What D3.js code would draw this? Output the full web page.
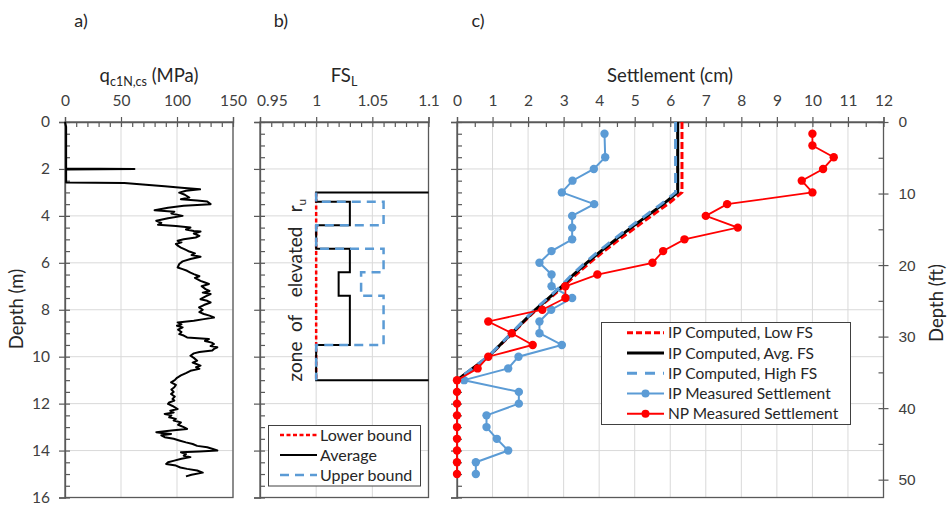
<!DOCTYPE html>
<html>
<head>
<meta charset="utf-8">
<script src="https://cdn.jsdelivr.net/npm/d3@7"></script>
<style>
  html, body { margin: 0; padding: 0; background: #fff; }
  svg { display: block; font-family: Lato, "Open Sans", sans-serif; }
</style>
</head>
<body>
<svg id="fig" width="951" height="506"></svg>
<script>
// ---------- CPT profile (panel a) ----------
const cptDepth = [0,0.2,1.0,1.98,2.0,2.02,2.58,2.6,2.68,2.74,2.8,2.87,2.93,3.01,3.1,3.22,3.29,3.34,3.39,3.5,3.57,3.65,3.76,3.82,3.9,4.0,4.1,4.21,4.3,4.38,4.43,4.5,4.58,4.64,4.67,4.75,4.85,4.92,5.0,5.06,5.13,5.2,5.28,5.35,5.45,5.52,5.6,5.67,5.74,5.84,5.94,6.05,6.2,6.27,6.34,6.42,6.48,6.57,6.64,6.77,6.84,6.9,7.0,7.12,7.2,7.27,7.33,7.42,7.55,7.62,7.69,7.8,7.9,8.0,8.1,8.18,8.25,8.33,8.4,8.47,8.54,8.62,8.68,8.75,8.85,8.95,9.04,9.1,9.18,9.25,9.33,9.4,9.46,9.55,9.6,9.67,9.74,9.8,9.86,9.96,10.05,10.17,10.25,10.38,10.45,10.52,10.6,10.7,10.8,10.9,11.0,11.09,11.2,11.3,11.4,11.5,11.59,11.7,11.8,11.87,11.95,12.01,12.1,12.23,12.3,12.38,12.44,12.5,12.58,12.65,12.72,12.8,12.9,13.0,13.08,13.15,13.22,13.26,13.29,13.35,13.43,13.5,13.57,13.65,13.72,13.8,13.86,13.93,14.0,14.04,14.07,14.15,14.22,14.28,14.35,14.43,14.5,14.57,14.64,14.72,14.78,14.85,14.94,15.03,15.1];
const cptQc = [0,1,1,1,62,1,1,53,75,89,104,120.6,108,102,107,111,103.5,118,127,130,106,92,80,97.6,95,105,92,81.5,86,83,99,112,108,115,121,115,120,116.7,106,100.6,104,99,101,103.5,108,111,116,113,121,112,105,102,100.6,105,109,112,115,120,116,121,125,128.5,122,125.5,129,123,130,126,121,127,130,124,119.7,123,120,124,129,133,124,115,100.6,104,100,105,101,104,102,106,109,128.5,125,131,133,130,136,133,131.5,120,115,112,115,118,114,121,117,120,112,108,103.5,100,98,94.7,99,97.6,95,97,94.7,98,96,97.6,93,92,96,100.6,94,97,89,95,93,99,97,103.5,101,106,109,95,81.5,88,94.7,86,89,97,102,108,114,118,127,132,136,120,103.5,108,106,112,104,97.6,92,90.3,99,103,109,118,123,113,108];
const qcTicks = [0, 50, 100, 150];

// ---------- Factor of safety profiles (panel b) ----------
const fsLowDepth = [3.0, 11.0];
const fsLowValue = [1.0, 1.0];
const fsAvgDepth = [3.0,3.0,3.4,3.4,4.4,4.4,5.4,5.4,6.4,6.4,7.4,7.4,9.5,9.5,11.0,11.0];
const fsAvgValue = [1.1,1.0,1.0,1.03,1.03,1.0,1.0,1.03,1.03,1.02,1.02,1.03,1.03,1.0,1.0,1.1];
const fsHighDepth = [3.0,3.4,3.4,4.4,4.4,5.4,5.4,6.4,6.4,7.4,7.4,9.5,9.5,11.0];
const fsHighValue = [1.0,1.0,1.06,1.06,1.0,1.0,1.06,1.06,1.04,1.04,1.06,1.06,1.0,1.0];
const fsTicks = [0.95, 1, 1.05, 1.1];
const fsLegend = ["Lower bound", "Average", "Upper bound"];

// ---------- Settlement profiles (panel c) ----------
const compDepth = [0,3.0,3.5,4.0,4.5,5.0,5.5,6.0,6.5,7.0,7.5,8.0,8.5,9.0,9.5,10.0,10.5,11.0];
const compLowFS = [6.33,6.33,5.93,5.47,5.02,4.57,4.14,3.73,3.35,3.0,2.62,2.23,1.89,1.56,1.22,0.89,0.45,0];
const compAvgFS = [6.21,6.21,5.8,5.35,4.9,4.47,4.05,3.65,3.28,2.95,2.58,2.2,1.87,1.54,1.21,0.88,0.44,0];
const compHighFS = [6.15,6.15,5.74,5.29,4.84,4.41,3.99,3.6,3.24,2.92,2.56,2.18,1.85,1.53,1.2,0.87,0.43,0];
const ipDepth = [0.5,1.5,2.0,2.5,3.0,3.5,4.0,4.5,5.0,5.5,6.0,6.5,7.0,7.5,8.0,8.5,9.0,9.5,10.0,10.5,11.0,11.5,12.0,12.5,13.0,13.5,14.0,14.5,15.0];
const ipMeasured = [4.15,4.17,3.85,3.25,2.95,3.86,3.24,3.24,3.24,2.66,2.32,2.66,2.66,3.24,2.65,2.32,2.32,2.95,1.73,1.44,0.2,1.74,1.74,0.83,0.83,1.12,1.44,0.53,0.53];
const npDepth = [0.5,1.0,1.5,2.0,2.5,3.0,3.5,4.0,4.5,5.0,5.5,6.0,6.5,7.0,7.5,8.0,8.5,9.0,9.5,10.0,10.5,11.0,11.5,12.0,12.5,13.0,13.5,14.0,14.5,15.0];
const npMeasured = [10.0,10.0,10.6,10.3,9.7,10.0,7.6,7.0,7.9,6.4,5.8,5.5,3.95,3.05,3.05,2.4,0.88,1.54,2.13,0.88,0.58,0,0,0,0,0,0,0,0,0];
const settleTicks = [0,1,2,3,4,5,6,7,8,9,10,11,12];
const settleLegend = ["IP Computed, Low FS", "IP Computed, Avg. FS", "IP Computed, High FS", "IP Measured Settlement", "NP Measured Settlement"];

const depthTicks = [0,2,4,6,8,10,12,14,16];
const depthFtTicks = [0,10,20,30,40,50];

// ---------- colours & type ----------
const RED = "#ff0000", BLUE = "#5b9bd5", BLACK = "#000000";
const AXIS = "#595959", GRID = "#d9d9d9", LABEL = "#404040", TITLE = "#262626";
const TICK_FS = "15.5px", TITLE_FS = "18.5px";

const svg = d3.select("#fig");
svg.append("rect").attr("width", 951).attr("height", 506).attr("fill", "#fff");

const y = d3.scaleLinear().domain([0, 16]).range([122, 497.5]);
const yFt = d3.scaleLinear().domain([0, 16 / 0.3048]).range([122, 497.5]);
const xa = d3.scaleLinear().domain([0, 150]).range([65, 233]);
const xb = d3.scaleLinear().domain([0.95, 1.1]).range([260, 428.5]);
const xc = d3.scaleLinear().domain([0, 12]).range([457, 883.5]);

function range(a, b, s) { const r = []; for (let v = a; v <= b + 1e-9; v += s) r.push(+v.toFixed(4)); return r; }

function panel(x, majorX, minorX, fmt, showDepthLabels) {
  const g = svg.append("g");
  const [x0, x1] = x.range();
  const [y0, y1] = y.range();
  // gridlines
  g.append("g").selectAll("line.v").data(majorX.filter((v, i) => i > 0)).join("line")
    .attr("x1", d => x(d)).attr("x2", d => x(d)).attr("y1", y0).attr("y2", y1)
    .attr("stroke", GRID).attr("stroke-width", 1);
  g.append("g").selectAll("line.h").data(depthTicks.slice(1, -1)).join("line")
    .attr("x1", x0).attr("x2", x1).attr("y1", d => y(d)).attr("y2", d => y(d))
    .attr("stroke", GRID).attr("stroke-width", 1);
  // frame
  g.append("rect").attr("x", x0).attr("y", y0).attr("width", x1 - x0).attr("height", y1 - y0)
    .attr("fill", "none").attr("stroke", AXIS).attr("stroke-width", 1.3);

  // top axis: labels + outward major ticks
  const top = g.append("g").attr("class", "top-axis").attr("transform", `translate(0,${y0})`)
    .call(d3.axisTop(x).tickValues(majorX).tickSize(5).tickPadding(11).tickFormat(fmt));
  top.select(".domain").attr("stroke", AXIS).attr("stroke-width", 1.3);
  // inward ticks (minor + major)
  g.append("g").attr("transform", `translate(0,${y0})`)
    .call(d3.axisTop(x).tickValues(minorX).tickSize(-5).tickFormat(""))
    .select(".domain").remove();

  // left axis
  const left = g.append("g").attr("transform", `translate(${x0},0)`)
    .call(d3.axisLeft(y).tickValues(depthTicks).tickSize(6).tickPadding(9)
      .tickFormat(showDepthLabels ? d3.format("d") : ""));
  left.select(".domain").attr("stroke", AXIS).attr("stroke-width", 1.3);
  g.append("g").attr("transform", `translate(${x0},0)`)
    .call(d3.axisLeft(y).tickValues(range(0, 16, 0.5)).tickSize(-5).tickFormat(""))
    .select(".domain").remove();

  g.selectAll(".tick line").attr("stroke", AXIS).attr("stroke-width", 1.2);
  g.selectAll(".tick text").attr("fill", LABEL).style("font-size", TICK_FS).style("font-family", "Lato, sans-serif");
  return top;
}

// ===== Panel a =====
panel(xa, qcTicks, range(0, 150, 10), d3.format("d"), true);
const lineA = d3.line().x(d => xa(d[1])).y(d => y(d[0]));
svg.append("path").datum(cptDepth.map((d, i) => [d, cptQc[i]]))
  .attr("d", lineA).attr("fill", "none").attr("stroke", BLACK).attr("stroke-width", 2)
  .attr("stroke-linejoin", "round");

// ===== Panel b =====
const topB = panel(xb, fsTicks, range(0.95, 1.1, 0.01), d => (d === 1 ? "1" : String(d)), false);
// first label sits inside the panel edge so it clears the neighbouring "150"
topB.selectAll(".tick text").filter(d => d === 0.95).attr("text-anchor", "start").attr("x", -3.5);
const lineB = d3.line().x(d => xb(d[1])).y(d => y(d[0]));
svg.append("path").datum(fsLowDepth.map((d, i) => [d, fsLowValue[i]]))
  .attr("d", lineB).attr("fill", "none").attr("stroke", RED).attr("stroke-width", 2.5).attr("stroke-dasharray", "4,2.5");
svg.append("path").datum(fsAvgDepth.map((d, i) => [d, fsAvgValue[i]]))
  .attr("d", lineB).attr("fill", "none").attr("stroke", BLACK).attr("stroke-width", 2);
svg.append("path").datum(fsHighDepth.map((d, i) => [d, fsHighValue[i]]))
  .attr("d", lineB).attr("fill", "none").attr("stroke", BLUE).attr("stroke-width", 2.5).attr("stroke-dasharray", "9,6");

// zone annotation
const zone = svg.append("g").attr("transform", "translate(302,288.5) rotate(-90)")
  .style("font-size", "19px").attr("fill", TITLE);
[["zone", -73], ["of", -35], ["elevated", 26.5]].forEach(([w, p]) =>
  zone.append("text").attr("x", p).attr("y", 0).attr("text-anchor", "middle").text(w));
const ru = zone.append("text").attr("x", 83).attr("y", 0).attr("text-anchor", "middle");
ru.append("tspan").text("r");
ru.append("tspan").attr("dy", 4).style("font-size", "12px").text("u");

// legend b
const legB = svg.append("g");
legB.append("rect").attr("x", 268.5).attr("y", 425.5).attr("width", 152).attr("height", 60.5)
  .attr("fill", "#fff").attr("stroke", "#404040").attr("stroke-width", 1);
const legBStyles = [
  { c: RED, w: 2.5, dash: "4,2.5" },
  { c: BLACK, w: 2, dash: null },
  { c: BLUE, w: 2.5, dash: "9,6" }
];
fsLegend.forEach((t, i) => {
  const cy = 435 + i * 20;
  legB.append("line").attr("x1", 280).attr("x2", 317).attr("y1", cy).attr("y2", cy)
    .attr("stroke", legBStyles[i].c).attr("stroke-width", legBStyles[i].w)
    .attr("stroke-dasharray", legBStyles[i].dash);
  legB.append("text").attr("x", 320).attr("y", cy).attr("dy", "0.36em")
    .style("font-size", "16px").attr("fill", TITLE).text(t);
});

// ===== Panel c =====
panel(xc, settleTicks, range(0, 12, 0.5), d3.format("d"), false);
// right-hand depth axis in feet
const right = svg.append("g").attr("transform", `translate(${xc.range()[1]},0)`)
  .call(d3.axisRight(yFt).tickValues(depthFtTicks).tickSize(5).tickPadding(10).tickFormat(d3.format("d")));
right.select(".domain").remove();
svg.append("g").attr("transform", `translate(${xc.range()[1]},0)`)
  .call(d3.axisRight(yFt).tickValues(range(0, 50, 5)).tickSize(-5).tickFormat(""))
  .select(".domain").remove();
svg.selectAll(".tick line").attr("stroke", AXIS).attr("stroke-width", 1.2);
right.selectAll(".tick text").attr("fill", LABEL).style("font-size", TICK_FS);

const lineC = d3.line().x(d => xc(d[1])).y(d => y(d[0]));
svg.append("path").datum(compDepth.map((d, i) => [d, compLowFS[i]]))
  .attr("d", lineC).attr("fill", "none").attr("stroke", RED).attr("stroke-width", 3).attr("stroke-dasharray", "7,3");
svg.append("path").datum(compDepth.map((d, i) => [d, compAvgFS[i]]))
  .attr("d", lineC).attr("fill", "none").attr("stroke", BLACK).attr("stroke-width", 3);
svg.append("path").datum(compDepth.map((d, i) => [d, compHighFS[i]]))
  .attr("d", lineC).attr("fill", "none").attr("stroke", BLUE).attr("stroke-width", 3).attr("stroke-dasharray", "10,7");

const ipData = ipDepth.map((d, i) => [d, ipMeasured[i]]);
svg.append("path").datum(ipData).attr("d", lineC).attr("fill", "none")
  .attr("stroke", BLUE).attr("stroke-width", 2);
svg.append("g").selectAll("circle").data(ipData).join("circle")
  .attr("cx", d => xc(d[1])).attr("cy", d => y(d[0])).attr("r", 4.2).attr("fill", BLUE);

const npData = npDepth.map((d, i) => [d, npMeasured[i]]);
svg.append("path").datum(npData).attr("d", lineC).attr("fill", "none")
  .attr("stroke", RED).attr("stroke-width", 1.8);
svg.append("g").selectAll("circle").data(npData).join("circle")
  .attr("cx", d => xc(d[1])).attr("cy", d => y(d[0])).attr("r", 4.2).attr("fill", RED);

// legend c
const legC = svg.append("g");
legC.append("rect").attr("x", 601.5).attr("y", 322.5).attr("width", 249).attr("height", 102)
  .attr("fill", "#fff").attr("stroke", "#404040").attr("stroke-width", 1);
const legCStyles = [
  { c: RED, w: 3, dash: "6,3", dot: false },
  { c: BLACK, w: 3, dash: null, dot: false },
  { c: BLUE, w: 3, dash: "10,8", dot: false },
  { c: BLUE, w: 2, dash: null, dot: true },
  { c: RED, w: 2, dash: null, dot: true }
];
settleLegend.forEach((t, i) => {
  const cy = 332.7 + i * 20.25;
  const s = legCStyles[i];
  legC.append("line").attr("x1", 627).attr("x2", 664).attr("y1", cy).attr("y2", cy)
    .attr("stroke", s.c).attr("stroke-width", s.w).attr("stroke-dasharray", s.dash);
  if (s.dot) legC.append("circle").attr("cx", 645.5).attr("cy", cy).attr("r", 4).attr("fill", s.c);
  legC.append("text").attr("x", 668).attr("y", cy).attr("dy", "0.36em")
    .style("font-size", "15.5px").attr("fill", TITLE).text(t);
});

// ---------- titles ----------
const title = (x, yy, parts, size) => {
  const t = svg.append("text").attr("x", x).attr("y", yy).attr("text-anchor", "middle")
    .style("font-size", size || TITLE_FS).attr("fill", TITLE);
  parts.forEach(p => {
    const s = t.append("tspan").text(p.t);
    if (p.sub) s.attr("dy", 4).style("font-size", "12.5px");
    if (p.back) s.attr("dy", -4);
  });
  return t;
};
title(81, 27, [{ t: "a)" }], "18px");
title(281, 27, [{ t: "b)" }], "18px");
title(478, 27, [{ t: "c)" }], "18px");
title(149, 82, [{ t: "q" }, { t: "c1N,cs", sub: true }, { t: " (MPa)", back: true }]);
title(344, 82, [{ t: "FS" }, { t: "L", sub: true }]);
title(670, 82, [{ t: "Settlement (cm)" }]);

svg.append("text").attr("transform", "translate(23,309) rotate(-90)").attr("text-anchor", "middle")
  .style("font-size", TITLE_FS).attr("fill", TITLE).text("Depth (m)");
svg.append("text").attr("transform", "translate(943,303) rotate(-90)").attr("text-anchor", "middle")
  .style("font-size", TITLE_FS).attr("fill", TITLE).text("Depth (ft)");
</script>
</body>
</html>
